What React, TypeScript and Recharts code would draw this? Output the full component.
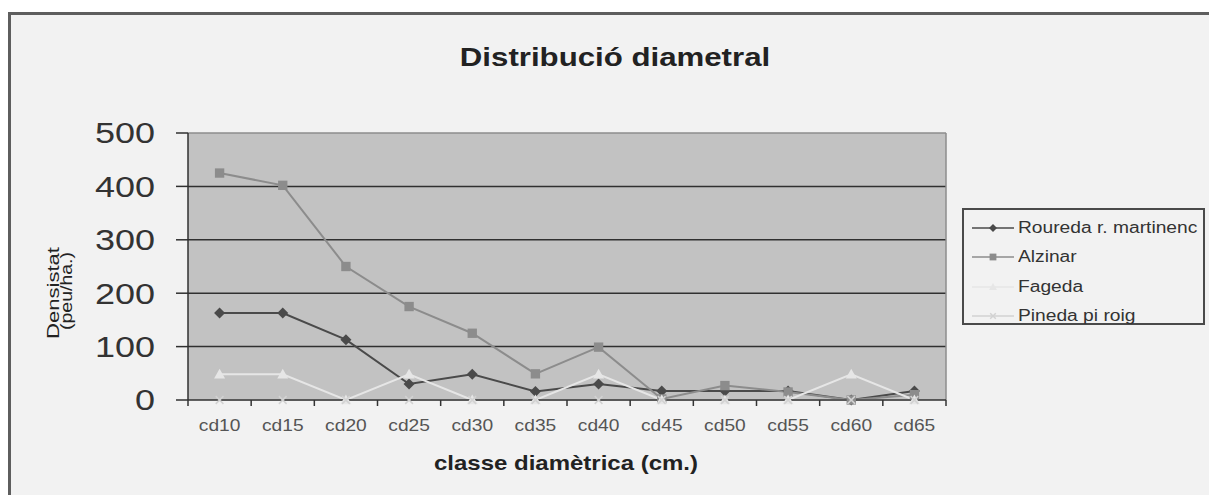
import React from 'react';
import { LineChart, Line, XAxis, YAxis, CartesianGrid, Legend } from 'recharts';

const categories = ['cd10', 'cd15', 'cd20', 'cd25', 'cd30', 'cd35', 'cd40', 'cd45', 'cd50', 'cd55', 'cd60', 'cd65'];
const rouredaValues = [163, 163, 113, 30, 48, 16, 30, 17, 17, 17, 0, 17];
const alzinarValues = [425, 402, 250, 175, 125, 49, 99, 2, 27, 15, 0, 10];
const fagedaValues = [48, 48, 0, 48, 0, 0, 48, 0, 0, 0, 48, 0];
const pinedaValues = [0, 0, 0, 0, 0, 0, 0, 0, 0, 0, 0, 0];
const yTicks = [0, 100, 200, 300, 400, 500];
const gridValues = [100, 200, 300, 400];
const borderValues = [500];

const seriesKeys = ['roureda', 'alzinar', 'fageda', 'pineda'];
const seriesNames: Record<string, string> = {
  roureda: 'Roureda r. martinenc',
  alzinar: 'Alzinar',
  fageda: 'Fageda',
  pineda: 'Pineda pi roig',
};

const data = categories.map((cat, i) => ({
  cat,
  roureda: rouredaValues[i],
  alzinar: alzinarValues[i],
  fageda: fagedaValues[i],
  pineda: pinedaValues[i],
}));

const W = 1209;
const H = 495;
const PLOT_LEFT = 188;
const PLOT_TOP = 133;
const PLOT_RIGHT = 946;
const X_AXIS_H = 95;
const HALF_STEP = (PLOT_RIGHT - PLOT_LEFT) / categories.length / 2;
const FONT = '"Liberation Sans", Arial, sans-serif';

const COLORS: Record<string, string> = {
  roureda: '#4a4a4a',
  alzinar: '#8c8c8c',
  fageda: '#e6e6e6',
  pineda: '#d2d2d2',
};

type Shape = 'diamond' | 'square' | 'triangle' | 'cross';
const SHAPES: Record<string, Shape> = {
  roureda: 'diamond',
  alzinar: 'square',
  fageda: 'triangle',
  pineda: 'cross',
};

function marker(shape: Shape, cx: number, cy: number, r: number, color: string, key?: string) {
  if (shape === 'diamond') {
    return <path key={key} d={`M${cx},${cy - r}L${cx + r},${cy}L${cx},${cy + r}L${cx - r},${cy}Z`} fill={color} />;
  }
  if (shape === 'square') {
    const s = r * 0.85;
    return <rect key={key} x={cx - s} y={cy - s} width={2 * s} height={2 * s} fill={color} />;
  }
  if (shape === 'triangle') {
    return <path key={key} d={`M${cx},${cy - r}L${cx + r},${cy + r * 0.75}L${cx - r},${cy + r * 0.75}Z`} fill={color} />;
  }
  const s = r * 0.7;
  return (
    <path key={key} d={`M${cx - s},${cy - s}L${cx + s},${cy + s}M${cx - s},${cy + s}L${cx + s},${cy - s}`} stroke={color} strokeWidth={1.5} fill="none" />
  );
}

const makeDot = (k: string) => (props: any) => {
  const { cx, cy, index } = props;
  if (cx == null || cy == null) return <g key={`${k}-${index}`} />;
  return marker(SHAPES[k], cx, cy, 5.5, COLORS[k], `${k}-${index}`);
};

const XTick = (props: any) => {
  const { x, y, payload, index } = props;
  const axisY = y - 6;
  const last = index === categories.length - 1;
  return (
    <g>
      <line x1={x - HALF_STEP} y1={axisY} x2={x - HALF_STEP} y2={axisY + 6} stroke="#333" strokeWidth={1.5} />
      {last && <line x1={x + HALF_STEP} y1={axisY} x2={x + HALF_STEP} y2={axisY + 6} stroke="#333" strokeWidth={1.5} />}
      <text
        x={0}
        y={0}
        textAnchor="middle"
        dominantBaseline="central"
        fontSize={16}
        fill="#555"
        fontFamily={FONT}
        transform={`translate(${x},${axisY + 26}) scale(1.2,1)`}
      >
        {payload.value}
      </text>
    </g>
  );
};

const YTick = (props: any) => {
  const { x, y, payload } = props;
  return (
    <text
      x={0}
      y={0}
      textAnchor="end"
      dominantBaseline="central"
      fontSize={30}
      fill="#333"
      fontFamily={FONT}
      transform={`translate(${x},${y}) scale(1.2,1)`}
    >
      {payload.value}
    </text>
  );
};

const YLabel = () => (
  <g fontFamily={FONT} fill="#222" fontSize={16}>
    <text x={0} y={0} textAnchor="middle" dominantBaseline="central" transform="translate(54,293) rotate(-90) scale(1.38,1)">
      Densistat
    </text>
    <text x={0} y={0} textAnchor="middle" dominantBaseline="central" transform="translate(67,291) rotate(-90) scale(1.22,1)">
      (peu/ha.)
    </text>
  </g>
);

const XLabel = () => (
  <text
    x={0}
    y={0}
    textAnchor="middle"
    dominantBaseline="central"
    fontSize={20}
    fontWeight="bold"
    fill="#222"
    fontFamily={FONT}
    transform="translate(566,463) scale(1.2,1)"
  >
    classe diamètrica (cm.)
  </text>
);

const LegendBox = (props: any) => {
  const payload = [...(props.payload || [])].sort(
    (a: any, b: any) => seriesKeys.indexOf(a.dataKey) - seriesKeys.indexOf(b.dataKey)
  );
  return (
    <div
      style={{
        boxSizing: 'border-box',
        width: 243,
        height: 117,
        border: '2px solid #4a4a4a',
        background: '#f2f2f2',
        paddingTop: 3,
        fontFamily: FONT,
      }}
    >
      {payload.map((p: any) => {
        const k = p.dataKey as string;
        const color = COLORS[k];
        return (
          <div key={k} style={{ height: 29.5, display: 'flex', alignItems: 'center' }}>
            <svg width={50} height={20} style={{ flex: 'none', marginLeft: 4 }}>
              <line x1={4} y1={10} x2={46} y2={10} stroke={color} strokeWidth={1.5} />
              {marker(SHAPES[k], 25, 10, 4, color)}
            </svg>
            <span
              style={{
                display: 'inline-block',
                fontSize: 16,
                color: '#333',
                transform: 'scaleX(1.2)',
                transformOrigin: 'left center',
                whiteSpace: 'nowrap',
              }}
            >
              {p.value}
            </span>
          </div>
        );
      })}
    </div>
  );
};

export default function App() {
  return (
    <div style={{ position: 'absolute', left: 0, top: 0, width: W, height: H, overflow: 'hidden', background: '#fff' }}>
      <div
        style={{
          position: 'absolute',
          left: 8,
          top: 12,
          width: W + 20,
          height: H + 20,
          border: '3px solid #5e5e5e',
          background: '#f2f2f2',
        }}
      />
      <div
        style={{
          position: 'absolute',
          left: 615,
          top: 57,
          transform: 'translate(-50%, -50%) scaleX(1.2)',
          fontFamily: FONT,
          fontWeight: 'bold',
          fontSize: 26,
          color: '#222',
          whiteSpace: 'nowrap',
        }}
      >
        Distribució diametral
      </div>
      <div style={{ position: 'absolute', left: 0, top: 0 }}>
        <LineChart
          width={W}
          height={H}
          data={data}
          margin={{ top: PLOT_TOP, right: W - PLOT_RIGHT, bottom: 0, left: 0 }}
        >
          <CartesianGrid
            vertical={false}
            horizontalValues={gridValues}
            fill="#c2c2c2"
            fillOpacity={1}
            stroke="#303030"
            strokeWidth={1.5}
          />
          <CartesianGrid
            horizontalValues={borderValues}
            verticalCoordinatesGenerator={(p: any) => [p.offset.left + p.offset.width]}
            stroke="#8c8c8c"
            strokeWidth={1.5}
          />
          <XAxis
            dataKey="cat"
            height={X_AXIS_H}
            padding={{ left: HALF_STEP, right: HALF_STEP }}
            axisLine={{ stroke: '#303030', strokeWidth: 1.5 }}
            tickLine={false}
            tickSize={6}
            tickMargin={0}
            interval={0}
            tick={<XTick />}
            label={<XLabel />}
          />
          <YAxis
            width={PLOT_LEFT}
            domain={[0, 500]}
            ticks={yTicks}
            interval={0}
            axisLine={{ stroke: '#303030', strokeWidth: 1.5 }}
            tickLine={{ stroke: '#303030', strokeWidth: 1.5 }}
            tickSize={12}
            tickMargin={21}
            tick={<YTick />}
            label={<YLabel />}
          />
          <Legend
            layout="horizontal"
            align="center"
            verticalAlign="middle"
            content={<LegendBox />}
            wrapperStyle={{ position: 'absolute', left: 962, top: 208, width: 243, height: 117 }}
          />
          <Line dataKey="roureda" name={seriesNames.roureda} stroke={COLORS.roureda} strokeWidth={2} dot={makeDot('roureda')} isAnimationActive={false} />
          <Line dataKey="alzinar" name={seriesNames.alzinar} stroke={COLORS.alzinar} strokeWidth={2} dot={makeDot('alzinar')} isAnimationActive={false} />
          <Line dataKey="fageda" name={seriesNames.fageda} stroke={COLORS.fageda} strokeWidth={2} dot={makeDot('fageda')} isAnimationActive={false} />
          <Line dataKey="pineda" name={seriesNames.pineda} stroke={COLORS.pineda} strokeWidth={2} dot={makeDot('pineda')} isAnimationActive={false} />
        </LineChart>
      </div>
    </div>
  );
}
